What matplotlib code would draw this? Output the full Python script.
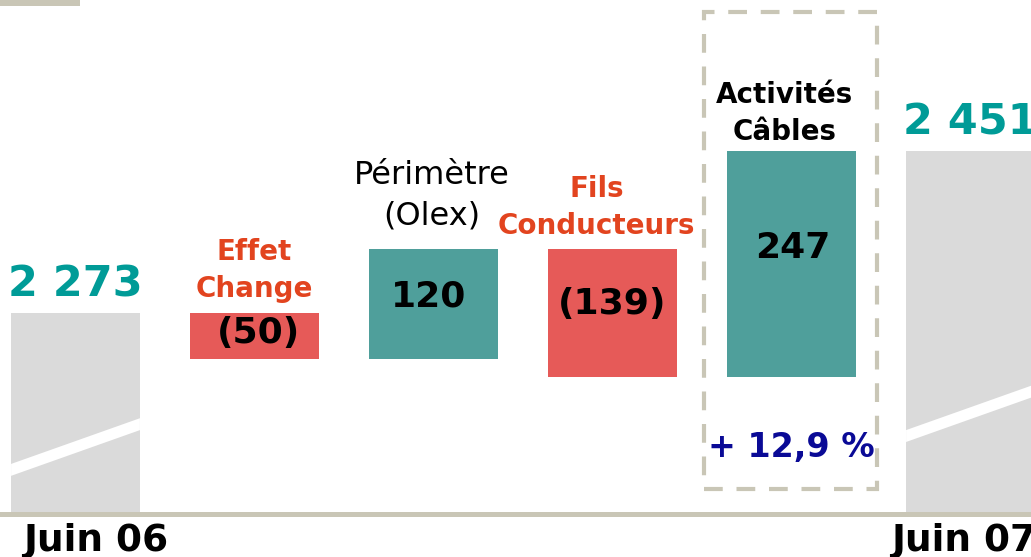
import matplotlib.pyplot as plt
from matplotlib.patches import Rectangle, Polygon

# waterfall: Juin 06 -> Juin 07
categories = ["Juin 06", "Effet\nChange", "Périmètre\n(Olex)", "Fils\nConducteurs", "Activités\nCâbles", "Juin 07"]
values = [2273, -50, 120, -139, 247, 2451]
value_labels = ["2 273", "(50)", "120", "(139)", "247", "2 451"]
growth_label = "+ 12,9 %"

# the y axis is broken: bars for the totals start from this level
axis_base = 2056
# where the white "break" stripe crosses the left edge of the total bars
break_levels = {0: 2102, 5: 2139}

teal = "#4f9f9b"
teal_text = "#009b97"
red = "#e65a58"
red_text = "#e2441f"
grey = "#dadada"
beige = "#c9c6b6"
navy = "#0a0a96"

fig = plt.figure(figsize=(10.31, 5.57), dpi=100)
ax = fig.add_axes([0, 0, 1, 1])
ax.set_xlim(-0.4218, 5.338)
ax.set_ylim(2006.8, 2615.6)
ax.axis("off")

width = 0.72

running = 0
for i, (cat, val, lab) in enumerate(zip(categories, values, value_labels)):
    if i == 0 or i == len(values) - 1:
        bottom, top = axis_base, val
        ax.bar(i, top - bottom, bottom=bottom, width=width, color=grey, zorder=1)
        # white diagonal stripe marking the axis break
        y0 = break_levels[i]
        rise = 50
        th = 6.5
        x0, x1 = i - width / 2, i + width / 2
        ax.add_patch(Polygon([(x0, y0 - th), (x1, y0 + rise - th), (x1, y0 + rise + th), (x0, y0 + th)],
                             closed=True, color="white", lw=0, zorder=2))
        ax.text(i, top + 18, lab, ha="center", va="baseline", fontsize=31,
                fontweight="bold", color=teal_text)
        ax.text(i + (0.11 if i == 0 else -0.04), axis_base - 12, cat, ha="center", va="top",
                fontsize=27, fontweight="bold", color="black")
        running = val
    else:
        start = running
        end = running + val
        lo, hi = min(start, end), max(start, end)
        ax.bar(i, hi - lo, bottom=lo, width=width, color=teal if val > 0 else red, zorder=1)
        dx = {1: 0.02, 2: -0.03, 3: 0.0, 4: 0.01}[i]
        ax.text(i + dx, hi - 0.43 * (hi - lo), lab, ha="center", va="center",
                fontsize=26, fontweight="bold", color="black", zorder=3)
        if i == 2:
            ax.text(i - 0.01, hi + 27, cat, ha="center", va="baseline", fontsize=23,
                    color="black", linespacing=1.4)
        elif i == 4:
            ax.text(i - 0.04, hi + 12, cat, ha="center", va="baseline", fontsize=20,
                    fontweight="bold", color="black", linespacing=1.4)
        else:
            gap = 18 if i == 1 else 17
            ax.text(i - (0.09 if i == 3 else 0), hi + gap, cat, ha="center", va="baseline",
                    fontsize=20, fontweight="bold", color=red_text, linespacing=1.4)
        running = end

# growth of the cable activities, framed with a dashed box
ax.text(4, axis_base + 71, growth_label, ha="center", va="center", fontsize=24,
        fontweight="bold", color=navy)
ax.add_patch(Rectangle((3.511, 2080.6), 0.967, 522, fill=False, edgecolor=beige,
                       lw=3, linestyle=(0, (4.5, 3.3)), zorder=2))

# baseline
ax.axhline(axis_base - 2.7, color=beige, lw=3.6, zorder=2)

# slide decoration top left
fig.patches.append(Rectangle((0, 1 - 6 / 557), 80 / 1031, 6 / 557, transform=fig.transFigure,
                             color=beige, lw=0))

fig.savefig("out.png", dpi=100)
